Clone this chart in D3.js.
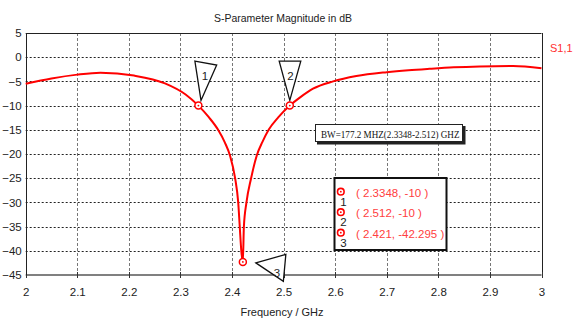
<!DOCTYPE html>
<html><head><meta charset="utf-8">
<script src="https://cdn.jsdelivr.net/npm/d3@7"></script>
<style>
html,body{margin:0;padding:0;background:#fff;}
svg{display:block;font-family:"Liberation Sans",Arial,sans-serif;}
</style></head>
<body><svg id="c" width="573" height="320"></svg>
<script>
// ---- data ----
const freq = [2.0, 2.05, 2.1, 2.145, 2.21, 2.27, 2.31, 2.3348, 2.355, 2.373, 2.386, 2.396, 2.406, 2.412, 2.415, 2.418, 2.421, 2.423, 2.428, 2.437, 2.448, 2.459, 2.471, 2.49, 2.512, 2.532, 2.557, 2.596, 2.641, 2.70, 2.742, 2.783, 2.83, 2.88, 2.945, 3.0];
const s11  = [-5.5, -4.4, -3.6, -3.2, -3.8, -5.4, -7.7, -10, -12.4, -15, -17.6, -20.3, -25, -30, -35, -40, -42.295, -35, -30, -25, -20.3, -17.5, -15, -12.4, -10, -8.3, -6.5, -5.0, -3.9, -3.1, -2.7, -2.4, -2.1, -1.9, -1.8, -2.3];
const markerIds = ["1", "2", "3"];
const markerFreq = [2.3348, 2.512, 2.421];
const markerVal = [-10, -10, -42.295];
const xTicks = [2, 2.1, 2.2, 2.3, 2.4, 2.5, 2.6, 2.7, 2.8, 2.9, 3];
const yTicks = [5, 0, -5, -10, -15, -20, -25, -30, -35, -40, -45];
const title = "S-Parameter Magnitude in dB";
const xLabel = "Frequency / GHz";
const seriesName = "S1,1";
const bwText = "BW=177.2 MHZ(2.3348-2.512) GHZ";

// ---- layout ----
const L = 25.7, R = 541.5, T = 33, B = 275;
const svg = d3.select("#c");
const x = d3.scaleLinear().domain([2, 3]).range([L, R]);
const y = d3.scaleLinear().domain([-45, 5]).range([B, T]);

// grid
const g = svg.append("g");
g.selectAll("line.vg").data(xTicks.slice(1, -1)).join("line")
  .attr("x1", d => Math.round(x(d)) + 0.5).attr("x2", d => Math.round(x(d)) + 0.5)
  .attr("y1", T).attr("y2", B)
  .attr("stroke", "#777").attr("stroke-width", 1).attr("stroke-dasharray", "3,2");
g.selectAll("line.hg").data(yTicks.slice(1, -1)).join("line")
  .attr("x1", L).attr("x2", R)
  .attr("y1", d => Math.round(y(d)) + 0.5).attr("y2", d => Math.round(y(d)) + 0.5)
  .attr("stroke", "#222").attr("stroke-width", 1).attr("stroke-dasharray", "2,2");

// frame top/right
svg.append("line").attr("x1", L).attr("x2", R).attr("y1", Math.round(T) + 0.5).attr("y2", Math.round(T) + 0.5).attr("stroke", "#222");
svg.append("line").attr("x1", Math.round(R) + 0.5).attr("x2", Math.round(R) + 0.5).attr("y1", T).attr("y2", B).attr("stroke", "#222");

// axes
const xAxis = d3.axisBottom(x).tickValues(xTicks).tickFormat(d3.format("")).tickSize(0).tickPadding(13);
const xa = svg.append("g").attr("transform", `translate(0,${B})`).call(xAxis);
xa.select(".domain").remove();
xa.selectAll("text").attr("font-size", 11.5).attr("fill", "#222").attr("font-family", "Liberation Sans, Arial, sans-serif");
svg.append("line").attr("x1", L).attr("x2", R).attr("y1", B).attr("y2", B).attr("stroke", "#808080").attr("stroke-width", 2);
svg.selectAll("line.xt").data(xTicks).join("line")
  .attr("x1", d => Math.round(x(d)) + 0.5).attr("x2", d => Math.round(x(d)) + 0.5)
  .attr("y1", B - 3).attr("y2", B + 3).attr("stroke", "#333");

const yAxis = d3.axisLeft(y).tickValues(yTicks).tickSize(0).tickPadding(4);
const ya = svg.append("g").attr("transform", `translate(${L},0)`).call(yAxis);
ya.select(".domain").remove();
ya.selectAll("text").attr("font-size", 11.5).attr("fill", "#222").attr("font-family", "Liberation Sans, Arial, sans-serif");
svg.append("line").attr("x1", Math.round(L) + 0.5).attr("x2", Math.round(L) + 0.5).attr("y1", T).attr("y2", B).attr("stroke", "#222");

// title, labels
svg.append("text").attr("x", 283).attr("y", 21.5).attr("text-anchor", "middle")
  .attr("font-size", 11.5).attr("fill", "#222").attr("textLength", 138).attr("lengthAdjust", "spacingAndGlyphs").text(title);
svg.append("text").attr("x", 282).attr("y", 316).attr("text-anchor", "middle")
  .attr("font-size", 11).attr("fill", "#222").text(xLabel);
svg.append("text").attr("x", 550).attr("y", 51.5)
  .attr("font-size", 11).attr("fill", "#ff3030").text(seriesName);

// curve
const pts = freq.map((f, i) => [f, s11[i]]);
svg.append("path").datum(pts)
  .attr("d", d3.line().x(d => x(d[0])).y(d => y(d[1])).curve(d3.curveMonotoneX))
  .attr("fill", "none").attr("stroke", "#ff0000").attr("stroke-width", 2);

// marker flags (offsets relative to marker point)
const flagShapes = [
  {tri: [[-3.5, -44.5], [18.3, -40.5], [2.6, -5.2]], lab: [6.6, -30]},
  {tri: [[-10.6, -44.5], [11, -44.5], [0, -5.2]], lab: [0.7, -30]},
  {tri: [[13, 1], [43, -7.5], [40.5, 19.5]], lab: [34, 10.5]}
];
markerIds.forEach((id, i) => {
  const px = x(markerFreq[i]), py = y(markerVal[i]);
  const s = flagShapes[i];
  svg.append("path")
    .attr("d", "M" + s.tri.map(p => [px + p[0], py + p[1]].join(",")).join("L") + "Z")
    .attr("fill", "#fff").attr("stroke", "#111").attr("stroke-width", 1.3);
  svg.append("text").attr("x", px + s.lab[0]).attr("y", py + s.lab[1] + 4.5)
    .attr("text-anchor", "middle").attr("font-size", 11.5).attr("fill", "#222").text(id);
  svg.append("circle").attr("cx", px).attr("cy", py).attr("r", 3.5)
    .attr("fill", "#fff").attr("stroke", "#ff0000").attr("stroke-width", 1.5);
  svg.append("circle").attr("cx", px).attr("cy", py).attr("r", 0.9).attr("fill", "#ff0000");
});

// BW box
const bw = svg.append("g");
bw.append("rect").attr("x", 317).attr("y", 126).attr("width", 148.5).attr("height", 18.5).attr("fill", "#222");
bw.append("rect").attr("x", 315.5).attr("y", 124.5).attr("width", 147).attr("height", 17).attr("fill", "#fff").attr("stroke", "#222").attr("stroke-width", 1);
bw.append("text").attr("x", 321).attr("y", 137.5).attr("font-family", "Liberation Serif, Times New Roman, serif")
  .attr("font-size", 10.5).attr("fill", "#111").attr("textLength", 138.5).attr("lengthAdjust", "spacingAndGlyphs").text(bwText);

// marker legend box
const lg = svg.append("g");
lg.append("rect").attr("x", 334.5).attr("y", 178).attr("width", 112).attr("height", 72)
  .attr("fill", "#fff").attr("stroke", "#111").attr("stroke-width", 2);
markerIds.forEach((id, i) => {
  const cy = 191.7 + i * 20.5;
  lg.append("circle").attr("cx", 340.8).attr("cy", cy).attr("r", 3.3)
    .attr("fill", "#fff").attr("stroke", "#ff0000").attr("stroke-width", 1.6);
  lg.append("circle").attr("cx", 340.8).attr("cy", cy).attr("r", 0.9).attr("fill", "#ff0000");
  lg.append("text").attr("x", 343.5).attr("y", cy + 14).attr("text-anchor", "middle")
    .attr("font-size", 11.5).attr("fill", "#222").text(id);
  lg.append("text").attr("x", 356).attr("y", cy + 5)
    .attr("font-size", 11.5).attr("fill", "#ff4040")
    .text(`( ${markerFreq[i]}, ${markerVal[i]} )`);
});
</script>
</body></html>
